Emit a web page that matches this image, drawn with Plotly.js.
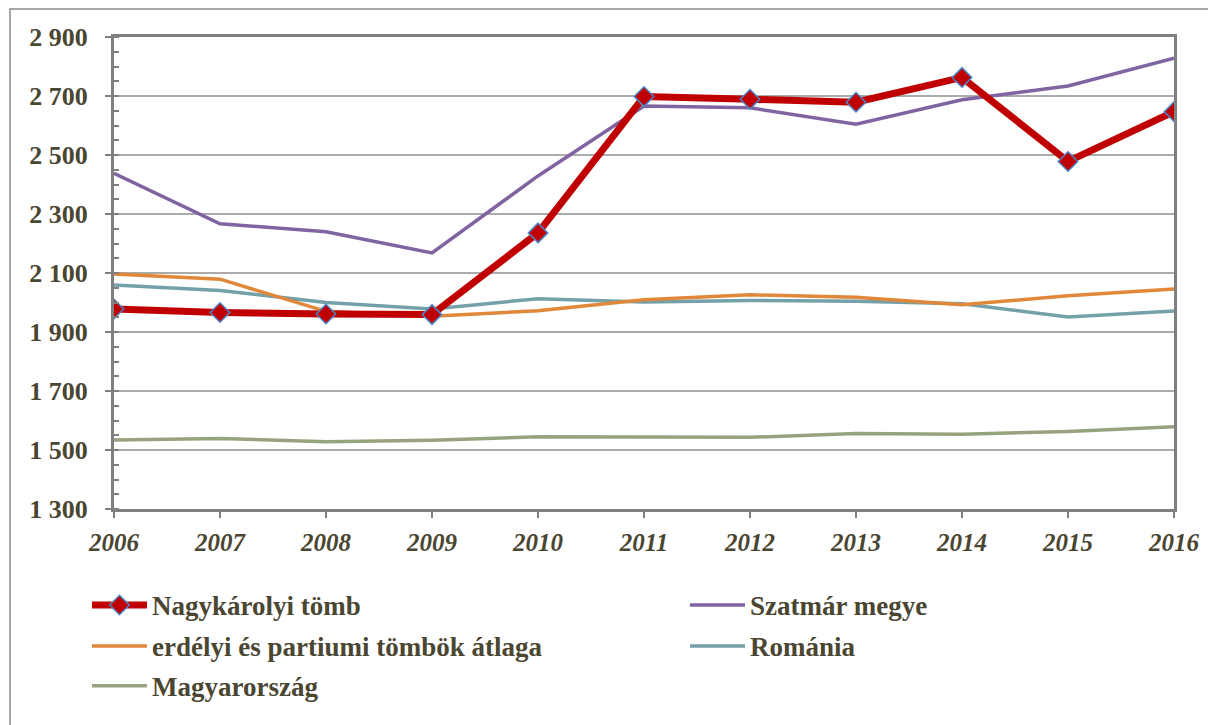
<!DOCTYPE html>
<html>
<head>
<meta charset="utf-8">
<script src="https://cdn.plot.ly/plotly-3.0.1.min.js"></script>
<style>html,body{margin:0;padding:0;background:#fff;}#chart{width:1208px;height:725px;}</style>
</head>
<body>
<div id="chart"></div>
<script>
const years = [2006, 2007, 2008, 2009, 2010, 2011, 2012, 2013, 2014, 2015, 2016];
const nagykaroly = [1978, 1966, 1961, 1959, 2236, 2698, 2689, 2679, 2763, 2478, 2647];
const szatmar = [2438, 2267, 2240, 2168, 2429, 2666, 2660, 2604, 2687, 2734, 2828];
const erdelyi = [2097, 2079, 1970, 1953, 1972, 2009, 2026, 2018, 1992, 2023, 2046];
const romania = [2059, 2041, 2000, 1978, 2013, 2002, 2007, 2004, 1996, 1951, 1971];
const magyar = [1534, 1539, 1528, 1533, 1545, 1544, 1543, 1556, 1553, 1563, 1579];
const names = ['Nagykárolyi tömb', 'Szatmár megye', 'erdélyi és partiumi tömbök átlaga', 'Románia', 'Magyarország'];

const txtColor = '#4a4632';
const serif = 'Liberation Serif, Times New Roman, serif';

const traces = [
  {x: years, y: magyar, name: names[4], mode: 'lines', line: {color: '#97a37f', width: 3.5}, legend: 'legend5'},
  {x: years, y: romania, name: names[3], mode: 'lines', line: {color: '#73a0a9', width: 3.5}, legend: 'legend4'},
  {x: years, y: erdelyi, name: names[2], mode: 'lines', line: {color: '#e0873a', width: 3.5}, legend: 'legend3'},
  {x: years, y: szatmar, name: names[1], mode: 'lines', line: {color: '#8064a2', width: 3.5}, legend: 'legend2'},
  {x: years, y: nagykaroly, name: names[0], mode: 'lines+markers', line: {color: '#c00000', width: 7},
   marker: {symbol: 'diamond', size: 15, color: '#c00000', line: {color: '#4a86c8', width: 1.5}}, legend: 'legend'}
];

function leg(xPix, yPix) {
  return {
    x: (xPix - 114) / 1060, xanchor: 'left',
    y: (509.5 - yPix) / 472.5, yanchor: 'middle',
    orientation: 'h', itemwidth: 55,
    font: {family: serif, size: 27, color: txtColor, weight: 'bold'},
    bgcolor: 'rgba(0,0,0,0)', borderwidth: 0
  };
}

const layout = {
  width: 1208, height: 725,
  margin: {l: 114, r: 34, t: 37, b: 215.5},
  paper_bgcolor: '#ffffff', plot_bgcolor: '#ffffff',
  showlegend: true,
  legend: leg(87, 606), legend2: leg(685, 606),
  legend3: leg(87, 647), legend4: leg(685, 647),
  legend5: leg(87, 687),
  xaxis: {
    range: [2006, 2016], tickvals: years, ticktext: years.map(String),
    ticks: 'outside', ticklen: 6, tickwidth: 2, tickcolor: '#808080',
    showline: true, linewidth: 3, linecolor: '#808080', mirror: true,
    showgrid: false, zeroline: false, ticklabelstandoff: 3,
    tickfont: {family: serif, size: 25, color: txtColor, weight: 'bold', style: 'italic'}
  },
  yaxis: {
    range: [1300, 2900], tick0: 1300, dtick: 200, tickformat: ',d',
    ticks: 'outside', ticklen: 6, tickwidth: 2, tickcolor: '#808080',
    showline: true, linewidth: 3, linecolor: '#808080', mirror: true,
    showgrid: true, gridcolor: '#ababab', gridwidth: 2, zeroline: false,
    ticklabelstandoff: 12,
    minor: {tick0: 1300, dtick: 50, ticks: 'inside', ticklen: 5, tickwidth: 2, tickcolor: '#808080', showgrid: false},
    tickfont: {family: serif, size: 26, color: txtColor, weight: 'bold'}
  },
  separators: '. ',
  shapes: [{type: 'rect', xref: 'paper', yref: 'paper',
    x0: (10 - 114) / 1060, x1: 1.3, y0: -1, y1: 1 + (37 - 9) / 472.5,
    line: {color: '#8c8c8c', width: 1.5}, fillcolor: 'rgba(0,0,0,0)', layer: 'below'}]
};

Plotly.newPlot('chart', traces, layout, {displayModeBar: false, staticPlot: true});
</script>
</body>
</html>
